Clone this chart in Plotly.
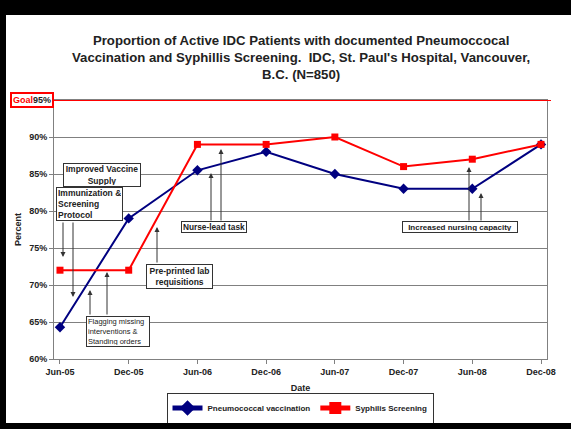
import plotly.graph_objects as go

dates = ["Jun-05", "Dec-05", "Jun-06", "Dec-06", "Jun-07", "Dec-07", "Jun-08", "Dec-08"]
pneumo = [64.3, 79, 85.5, 88, 85, 83, 83, 89]
syph = [72, 72, 89, 89, 90, 86, 87, 89]
goal = 95
y_ticks = [60, 65, 70, 75, 80, 85, 90]
y_ticktext = [f"{v}%" for v in y_ticks]

W, H = 571, 429
L, R, T, B = 54, 547, 100, 359
FONT = "Liberation Sans, Arial, sans-serif"
TXT = "#222222"

def px(x):
    return (x - L) / (R - L)

def py(y):
    return (B - y) / (B - T)

XR = [-0.087, 7.087]
YR = [60, 95]

def dx(x):
    return XR[0] + (x - L) / (R - L) * (XR[1] - XR[0])

def dy(y):
    return YR[0] + (B - y) / (B - T) * (YR[1] - YR[0])

fig = go.Figure()
xi = list(range(len(dates)))
fig.add_trace(go.Scatter(x=xi, y=pneumo, name="<b>Pneumococcal vaccination</b>", mode="lines+markers",
                         line=dict(color="#000080", width=2),
                         marker=dict(symbol="diamond", size=8, color="#000080")))
fig.add_trace(go.Scatter(x=xi, y=syph, name="<b>Syphilis Screening</b>", mode="lines+markers",
                         line=dict(color="#FF0000", width=2),
                         marker=dict(symbol="square", size=7, color="#FF0000")))

shapes = [dict(type="line", xref="paper", yref="y", x0=px(52), x1=px(551), y0=goal, y1=goal,
               line=dict(color="#FF0000", width=2))]

annotations = []
# black frame strips (as filled annotation boxes)
for x0, y0, x1, y1 in [(0, 0, W, 15), (0, 0, 6, H), (0, 423, W, H)]:
    annotations.append(dict(xref="paper", yref="paper", x=px(x0), y=py(y0), xanchor="left", yanchor="top",
                            text=" ", showarrow=False, width=x1 - x0, height=y1 - y0,
                            bgcolor="black", borderpad=0, borderwidth=0, font=dict(size=1)))

annotations.append(dict(xref="paper", yref="paper", x=px(301), y=py(57), xanchor="center", yanchor="middle",
                        text="<b>Proportion of Active IDC Patients with documented Pneumoccocal<br>"
                             "Vaccination and Syphillis Screening.  IDC, St. Paul's Hospital, Vancouver,<br>"
                             "B.C. (N=850)</b>",
                        showarrow=False, font=dict(family=FONT, size=13.2, color=TXT)))
annotations.append(dict(xref="paper", yref="paper", x=px(10), y=py(100), xanchor="left", yanchor="middle",
                        text="<b><span style='color:#FF0000'>Goal</span>95%</b>", showarrow=False,
                        font=dict(family=FONT, size=9, color=TXT), bordercolor="#FF0000", borderwidth=2,
                        borderpad=1, bgcolor="white"))

arrows = [
    ((63, 257), (63, 221)),
    ((73, 297), (73, 221)),
    ((90, 290), (90, 316)),
    ((107, 272), (107, 316)),
    ((157, 227), (157, 264)),
    ((211, 173), (211, 222)),
    ((221, 149), (221, 222)),
    ((469, 167), (469, 222)),
    ((481, 193), (481, 222)),
]
for (hx, hy), (tx, ty) in arrows:
    annotations.append(dict(xref="x", yref="y", axref="x", ayref="y", x=dx(hx), y=dy(hy), ax=dx(tx), ay=dy(ty),
                            text="", showarrow=True, arrowhead=2, arrowsize=1, arrowwidth=1,
                            arrowcolor="#333333", standoff=0, startstandoff=0))

boxes = [
    ("Improved Vaccine<br>Supply", 63, 163, 141, 187, "center", True, 8.5),
    ("Immunization &<br>Screening<br>Protocol", 56, 187, 123, 221, "left", True, 8.5),
    ("Flagging missing<br>interventions &<br>Standing orders", 86, 316, 150, 347, "left", False, 7.5),
    ("Pre-printed lab<br>requisitions", 146, 264, 213, 289, "center", True, 8.5),
    ("Nurse-lead task", 181, 221, 247, 233, "center", True, 8.3),
    ("Increased nursing capacity", 402, 221, 518, 233, "center", True, 8),
]
for text, x0, y0, x1, y1, align, bold, size in boxes:
    t = f"<b>{text}</b>" if bold else text
    annotations.append(dict(xref="paper", yref="paper", x=px((x0 + x1) / 2), y=py((y0 + y1) / 2),
                            xanchor="center", yanchor="middle", text=t, showarrow=False, align=align,
                            width=x1 - x0 - 4, height=y1 - y0 - 4, valign="middle",
                            font=dict(family=FONT, size=size, color=TXT),
                            bordercolor="#333333", borderwidth=1, borderpad=1, bgcolor="white"))

fig.update_layout(
    width=W, height=H,
    margin=dict(l=L, r=W - R, t=T, b=H - B, autoexpand=False),
    paper_bgcolor="white", plot_bgcolor="white",
    font=dict(family=FONT, color=TXT),
    showlegend=True,
    legend=dict(orientation="h", x=px(300), y=py(408), xanchor="center", yanchor="middle",
                bordercolor="#333333", borderwidth=1, bgcolor="white",
                font=dict(family=FONT, size=8, color=TXT), itemwidth=30, tracegroupgap=0,
                itemsizing="constant"),
    xaxis=dict(range=XR, tickvals=xi, ticktext=[f"<b>{d}</b>" for d in dates],
               showgrid=False, zeroline=False, showline=True, linecolor="#808080", linewidth=1, mirror=True,
               ticks="outside", ticklen=4, tickcolor="#808080",
               tickfont=dict(family=FONT, size=9, color=TXT),
               title=dict(text="<b>Date</b>", font=dict(family=FONT, size=9, color=TXT), standoff=8)),
    yaxis=dict(range=YR, tickvals=y_ticks, ticktext=[f"<b>{t}</b>" for t in y_ticktext],
               showgrid=True, gridcolor="#808080", gridwidth=1, zeroline=False,
               showline=True, linecolor="#808080", linewidth=1, mirror=True,
               ticks="outside", ticklen=4, tickcolor="#808080",
               tickfont=dict(family=FONT, size=9, color=TXT),
               title=dict(text="<b>Percent</b>", font=dict(family=FONT, size=9, color=TXT), standoff=6)),
    shapes=shapes,
    annotations=annotations,
)

fig.write_html("out.html", config={"displayModeBar": False},
               post_script="document.body.style.margin='0';document.body.style.overflow='hidden';")
